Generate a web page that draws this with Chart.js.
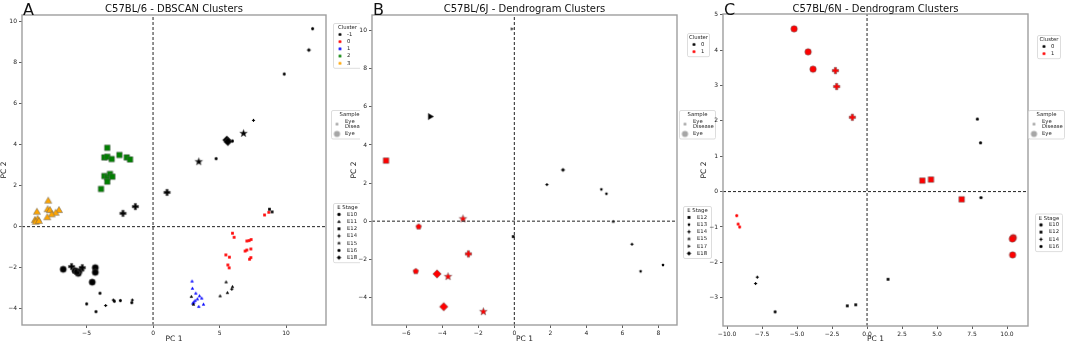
<!DOCTYPE html>
<html>
<head>
<meta charset="utf-8">
<script src="https://cdn.jsdelivr.net/npm/chart.js@4.4.1/dist/chart.umd.min.js"></script>
<style>
    body { margin: 0; background: #fff; width: 1065px; height: 344px; overflow: hidden; position: relative; }
    canvas { position: absolute; top: 0; }
</style>
</head>
<body>
<canvas id="chartA" width="360" height="344" style="left:0px"></canvas>
<canvas id="chartB" width="366" height="344" style="left:350px"></canvas>
<canvas id="chartC" width="365" height="344" style="left:700px"></canvas>
<script>
/* ========== Dados =============== */
// each point: [PC 1, PC 2, E stage, sample]

// A - C57BL/6 - DBSCAN
const A_clusterNeg1 = [
    [-2.26, 0.65, 'E14', 'Eye'], [-1.33, 0.98, 'E14', 'Eye'], [1.05, 1.67, 'E14', 'Eye'],
    [11.99, 9.66, 'E16', 'Eye Disease'], [11.71, 8.62, 'E18', 'Eye Disease'], [9.86, 7.45, 'E16', 'Eye Disease'],
    [7.55, 5.19, 'E14', 'Eye Disease'], [6.80, 4.55, 'E15', 'Eye'], [5.54, 4.23, 'E18', 'Eye'],
    [5.62, 4.15, 'E18', 'Eye'], [5.97, 4.18, 'E16', 'Eye Disease'], [4.74, 3.32, 'E16', 'Eye Disease'],
    [3.44, 3.17, 'E15', 'Eye'],
    [8.75, 0.85, 'E12', 'Eye Disease'], [8.95, 0.72, 'E12', 'Eye Disease'],
    [2.88, -3.41, 'E11', 'Eye Disease'], [3.04, -3.79, 'E11', 'Eye Disease'], [5.49, -2.70, 'E11', 'Eye Disease'],
    [5.97, -2.93, 'E11', 'Eye Disease'], [5.92, -3.05, 'E14', 'Eye Disease'], [5.59, -3.22, 'E11', 'Eye Disease'],
    [5.04, -3.38, 'E11', 'Eye Disease'],
    [-6.75, -2.08, 'E10', 'Eye'], [-5.87, -2.15, 'E10', 'Eye'], [-5.62, -2.28, 'E10', 'Eye'],
    [-5.72, -2.20, 'E10', 'Eye'], [-4.34, -2.00, 'E10', 'Eye'], [-4.34, -2.23, 'E10', 'Eye'],
    [-4.57, -2.71, 'E10', 'Eye'], [-6.12, -1.95, 'E14', 'Eye'], [-5.42, -2.11, 'E14', 'Eye'],
    [-5.32, -2.00, 'E14', 'Eye'],
    [-3.99, -3.25, 'E16', 'Eye Disease'], [-4.99, -3.77, 'E16', 'Eye Disease'], [-4.29, -4.15, 'E16', 'Eye Disease'],
    [-3.56, -3.85, 'E14', 'Eye Disease'], [-2.99, -3.58, 'E14', 'Eye Disease'], [-2.91, -3.64, 'E16', 'Eye Disease'],
    [-2.46, -3.61, 'E16', 'Eye Disease'], [-1.56, -3.58, 'E14', 'Eye Disease'], [-1.60, -3.71, 'E16', 'Eye Disease']
];
const A_cluster0 = [
    [5.97, -0.32, 'E12', 'Eye Disease'], [6.09, -0.52, 'E12', 'Eye Disease'], [7.05, -0.70, 'E12', 'Eye Disease'],
    [7.22, -0.68, 'E12', 'Eye Disease'], [7.37, -0.63, 'E12', 'Eye Disease'], [6.92, -1.19, 'E12', 'Eye Disease'],
    [7.05, -1.14, 'E12', 'Eye Disease'], [7.35, -1.09, 'E12', 'Eye Disease'], [7.25, -1.59, 'E12', 'Eye Disease'],
    [7.35, -1.51, 'E12', 'Eye Disease'], [5.47, -1.38, 'E12', 'Eye Disease'], [5.74, -1.49, 'E12', 'Eye Disease'],
    [5.62, -1.87, 'E12', 'Eye Disease'], [5.72, -2.01, 'E12', 'Eye Disease'], [8.38, 0.57, 'E12', 'Eye Disease'],
    [8.70, 0.70, 'E12', 'Eye Disease']
];
const A_cluster1 = [
    [2.93, -2.66, 'E11', 'Eye Disease'], [2.96, -3.01, 'E11', 'Eye Disease'], [3.21, -3.25, 'E11', 'Eye Disease'],
    [3.49, -3.38, 'E11', 'Eye Disease'], [3.66, -3.49, 'E11', 'Eye Disease'], [3.33, -3.53, 'E11', 'Eye Disease'],
    [3.16, -3.61, 'E11', 'Eye Disease'], [3.06, -3.69, 'E11', 'Eye Disease'], [3.79, -3.79, 'E11', 'Eye Disease'],
    [3.44, -3.90, 'E11', 'Eye Disease'], [2.99, -3.74, 'E11', 'Eye Disease']
];
const A_cluster2 = [
    [-3.44, 3.85, 'E12', 'Eye'], [-3.66, 3.38, 'E12', 'Eye'], [-3.44, 3.41, 'E12', 'Eye'],
    [-3.11, 3.30, 'E12', 'Eye'], [-2.53, 3.50, 'E12', 'Eye'], [-1.98, 3.38, 'E12', 'Eye'],
    [-1.73, 3.28, 'E12', 'Eye'], [-3.66, 2.47, 'E12', 'Eye'], [-3.44, 2.41, 'E12', 'Eye'],
    [-3.24, 2.57, 'E12', 'Eye'], [-3.06, 2.44, 'E12', 'Eye'], [-3.44, 2.20, 'E12', 'Eye'],
    [-3.91, 1.84, 'E12', 'Eye']
];
const A_cluster3 = [
    [-7.88, 1.27, 'E11', 'Eye'], [-8.73, 0.73, 'E11', 'Eye'], [-7.92, 0.85, 'E11', 'Eye'],
    [-7.75, 0.81, 'E11', 'Eye'], [-7.07, 0.81, 'E11', 'Eye'], [-7.32, 0.68, 'E11', 'Eye'],
    [-7.62, 0.60, 'E11', 'Eye'], [-7.95, 0.46, 'E11', 'Eye'], [-8.88, 0.33, 'E11', 'Eye'],
    [-8.68, 0.38, 'E11', 'Eye'], [-8.83, 0.24, 'E11', 'Eye'], [-8.58, 0.28, 'E11', 'Eye']
];
const A_clusters = ['-1', '0', '1', '2', '3'];
const A_stages = ['E10', 'E11', 'E12', 'E14', 'E15', 'E16', 'E18'];
const A_xTicks = [-5, 0, 5, 10];
const A_yTicks = [-4, -2, 0, 2, 4, 6, 8, 10];

// B - C57BL/6J - Dendrogram
const B_cluster0 = [
    [-4.66, 5.49, 'E17', 'Eye'], [-0.13, 10.09, 'E17', 'Eye Disease'], [-0.06, -0.81, 'E12', 'Eye Disease'],
    [2.70, 2.69, 'E18', 'Eye Disease'], [1.81, 1.92, 'E14', 'Eye Disease'], [4.83, 1.67, 'E13', 'Eye Disease'],
    [5.11, 1.44, 'E13', 'Eye Disease'], [5.49, -0.03, 'E15', 'Eye Disease'], [6.53, -1.21, 'E14', 'Eye Disease'],
    [8.25, -2.30, 'E13', 'Eye Disease'], [7.01, -2.63, 'E13', 'Eye Disease']
];
const B_cluster1 = [
    [-7.12, 3.18, 'E12', 'Eye'], [-5.31, -0.29, 'E13', 'Eye'], [-5.47, -2.63, 'E13', 'Eye'],
    [-2.55, -1.72, 'E14', 'Eye'], [-2.85, 0.12, 'E15', 'Eye'], [-3.68, -2.91, 'E15', 'Eye'],
    [-1.72, -4.75, 'E15', 'Eye'], [-4.29, -2.77, 'E18', 'Eye'], [-3.92, -4.49, 'E18', 'Eye']
];
const B_clusters = ['0', '1'];
const B_stages = ['E12', 'E13', 'E14', 'E15', 'E17', 'E18'];
const B_xTicks = [-6, -4, -2, 0, 2, 4, 6, 8];
const B_yTicks = [-4, -2, 0, 2, 4, 6, 8, 10];

// C - C57BL/6N - Dendrogram
const C_cluster0 = [
    [7.88, 2.05, 'E10', 'Eye Disease'], [8.11, 1.38, 'E10', 'Eye Disease'], [8.14, -0.17, 'E10', 'Eye Disease'],
    [-7.84, -2.42, 'E14', 'Eye Disease'], [-7.96, -2.60, 'E14', 'Eye Disease'], [-6.57, -3.40, 'E16', 'Eye Disease'],
    [-1.41, -3.23, 'E12', 'Eye Disease'], [-0.81, -3.20, 'E12', 'Eye Disease'], [1.50, -2.48, 'E12', 'Eye Disease']
];
const C_cluster1 = [
    [-5.21, 4.60, 'E10', 'Eye'], [-4.21, 3.95, 'E10', 'Eye'], [-3.86, 3.46, 'E10', 'Eye'],
    [10.45, -1.30, 'E10', 'Eye'], [10.38, -1.34, 'E10', 'Eye'], [10.40, -1.79, 'E10', 'Eye'],
    [-2.26, 3.42, 'E14', 'Eye'], [-2.17, 2.97, 'E14', 'Eye'], [-1.05, 2.10, 'E14', 'Eye'],
    [3.95, 0.31, 'E12', 'Eye'], [4.57, 0.34, 'E12', 'Eye'], [6.76, -0.22, 'E12', 'Eye'],
    [-9.31, -0.68, 'E16', 'Eye Disease'], [-9.21, -0.92, 'E16', 'Eye Disease'], [-9.10, -1.00, 'E16', 'Eye Disease']
];
const C_clusters = ['0', '1'];
const C_stages = ['E10', 'E12', 'E14', 'E16'];
const C_xTicks = [-10, -7.5, -5, -2.5, 0, 2.5, 5, 7.5, 10];
const C_yTicks = [-3, -2, -1, 0, 1, 2, 3, 4, 5];

const samples = ['Eye Disease', 'Eye'];

/* ========== Marcadores =============== */

const FONT = '"DejaVu Sans", sans-serif';
const stageShape = {
    E10: 'circle', E11: 'triangle', E12: 'square', E13: 'pentagon', E14: 'plus',
    E15: 'star', E16: 'hexagon', E17: 'triRight', E18: 'diamond'
};
const shapeScale = {
    circle: 1, square: 0.95, triangle: 1.05, pentagon: 0.85, plus: 0.9,
    star: 0.95, hexagon: 1, triRight: 0.95, diamond: 1.05
};
const markerCache = {};

function polyPath(g, cx, cy, n, R, start) {
    for (let i = 0; i < n; i++) {
        const a = start + i * 2 * Math.PI / n;
        const px = cx + R * Math.cos(a), py = cy + R * Math.sin(a);
        if (i == 0) g.moveTo(px, py); else g.lineTo(px, py);
    }
}

function makeMarker(shape, size, fill, edge) {
    const key = [shape, size, fill, edge].join('|');
    if (markerCache[key]) return markerCache[key];
    const s = size * (shapeScale[shape] || 1);
    const dim = Math.ceil(s * 1.4) + 2;
    const c = document.createElement('canvas');
    c.width = dim; c.height = dim;
    const g = c.getContext('2d');
    const m = dim / 2, r = s / 2;
    g.beginPath();
    if (shape == 'circle') {
        g.arc(m, m, r, 0, 2 * Math.PI);
    } else if (shape == 'square') {
        g.rect(m - r * 0.9, m - r * 0.9, r * 1.8, r * 1.8);
    } else if (shape == 'triangle') {
        polyPath(g, m, m + r * 0.15, 3, r * 1.2, -Math.PI / 2);
    } else if (shape == 'triRight') {
        polyPath(g, m - r * 0.1, m, 3, r * 1.2, 0);
    } else if (shape == 'pentagon') {
        polyPath(g, m, m, 5, r * 1.08, -Math.PI / 2);
    } else if (shape == 'hexagon') {
        polyPath(g, m, m, 6, r * 1.05, -Math.PI / 2);
    } else if (shape == 'diamond') {
        polyPath(g, m, m, 4, r * 1.25, -Math.PI / 2);
    } else if (shape == 'star') {
        for (let i = 0; i < 10; i++) {
            const a = -Math.PI / 2 + i * Math.PI / 5;
            const R = i % 2 == 0 ? r * 1.3 : r * 0.55;
            const px = m + R * Math.cos(a), py = m + R * Math.sin(a);
            if (i == 0) g.moveTo(px, py); else g.lineTo(px, py);
        }
    } else if (shape == 'plus') {
        const e = r * 1.1, w = r * 0.4;
        g.moveTo(m - w, m - e); g.lineTo(m + w, m - e); g.lineTo(m + w, m - w);
        g.lineTo(m + e, m - w); g.lineTo(m + e, m + w); g.lineTo(m + w, m + w);
        g.lineTo(m + w, m + e); g.lineTo(m - w, m + e); g.lineTo(m - w, m + w);
        g.lineTo(m - e, m + w); g.lineTo(m - e, m - w); g.lineTo(m - w, m - w);
    }
    g.closePath();
    g.fillStyle = fill;
    g.fill();
    if (edge) {
        g.strokeStyle = edge;
        g.lineWidth = 0.6;
        g.stroke();
    }
    markerCache[key] = c;
    return c;
}

const clusterColor = { '-1': '#000000', '0': '#ff0000', '1': '#0000ff', '2': '#008000', '3': '#ffa500' };
const dendroColor = { '0': '#000000', '1': '#ff0000' };
const sampleSize = { 'Eye': 6.5, 'Eye Disease': 3.2 };

function clusterDataset(points, color) {
    return {
        data: points.map(p => ({ x: p[0], y: p[1] })),
        pointStyle: points.map(p => makeMarker(stageShape[p[2]], sampleSize[p[3]], color,
            p[3] == 'Eye' ? 'rgba(90,90,90,0.8)' : null)),
        pointRadius: 3,
        pointHoverRadius: 3,
        order: 1
    };
}

function zeroLines(xMin, xMax, yMin, yMax) {
    const base = { type: 'line', showLine: true, borderColor: '#222', borderWidth: 1, borderDash: [3, 2], pointRadius: 0, order: 0 };
    return [
        Object.assign({ data: [{ x: 0, y: yMin }, { x: 0, y: yMax }] }, base),
        Object.assign({ data: [{ x: xMin, y: 0 }, { x: xMax, y: 0 }] }, base)
    ];
}

/* ========== Legendas e moldura =============== */

function drawLegend(ctx, lg, left) {
    const x = lg.x - left;
    let h = 8.8;
    lg.items.forEach(it => { h += it.label.split('\n').length * 5.3 + 1.9; });
    ctx.fillStyle = '#fff';
    ctx.strokeStyle = '#d4d4d4';
    ctx.lineWidth = 0.8;
    ctx.beginPath();
    ctx.roundRect(x + 0.5, lg.y + 0.5, lg.w, h, 1.5);
    ctx.fill();
    ctx.stroke();

    ctx.fillStyle = '#222';
    ctx.font = '5.3px ' + FONT;
    ctx.textBaseline = 'middle';
    ctx.textAlign = 'center';
    ctx.fillText(lg.title, x + lg.w / 2 + 0.5, lg.y + 4.9);
    ctx.textAlign = 'left';
    let cursor = lg.y + 7.8;
    lg.items.forEach(it => {
        const lines = it.label.split('\n');
        const ih = lines.length * 5.3 + 1.9;
        const cy = cursor + ih / 2;
        ctx.drawImage(it.marker, x + lg.mx - it.marker.width / 2, cy - it.marker.height / 2);
        lines.forEach((ln, k) => {
            ctx.fillText(ln, x + lg.lx, cy + (k - (lines.length - 1) / 2) * 5.3);
        });
        cursor += ih;
    });
}

const panelDecor = {
    id: 'panelDecor',
    afterDraw(chart, args, opts) {
        const ctx = chart.ctx, a = chart.chartArea;
        ctx.save();
        ctx.strokeStyle = '#9e9e9e';
        ctx.lineWidth = 1.4;
        ctx.strokeRect(a.left, a.top, a.right - a.left, a.bottom - a.top);

        ctx.fillStyle = '#111';
        ctx.textBaseline = 'alphabetic';
        ctx.textAlign = 'center';
        ctx.font = '10px ' + FONT;
        ctx.fillText(opts.title, (a.left + a.right) / 2, 12);
        ctx.textAlign = 'left';
        ctx.font = '16px ' + FONT;
        ctx.fillText(opts.letter, a.left + 1, 14.5);

        opts.legends.forEach(lg => drawLegend(ctx, lg, opts.left));
        ctx.restore();
    }
};

function fmtTick(decimals) {
    return v => (decimals ? Number(v).toFixed(1) : String(v)).replace('-', '\u2212');
}

function axis(min, max, ticks, title, isX, size, decimals) {
    return {
        type: 'linear',
        min: min,
        max: max,
        afterBuildTicks: s => { s.ticks = ticks.map(v => ({ value: v })); },
        afterFit: s => { if (isX) s.height = size; else s.width = size; },
        ticks: {
            autoSkip: false, maxRotation: 0, padding: 2, color: '#222',
            font: { family: FONT, size: 6 },
            callback: fmtTick(decimals)
        },
        grid: { drawOnChartArea: false, tickLength: 3, color: '#333', lineWidth: 0.8 },
        border: { display: false },
        title: { display: true, text: title, color: '#222', padding: 0, font: { family: FONT, size: 7.5 } }
    };
}

function buildPanel(id, p) {
    new Chart(document.getElementById(id), {
        type: 'scatter',
        data: {
            datasets: zeroLines(p.xMin, p.xMax, p.yMin, p.yMax).concat(p.sets)
        },
        options: {
            responsive: false,
            animation: false,
            events: [],
            layout: { padding: { top: p.top, right: p.padRight, left: 0, bottom: 0 } },
            plugins: {
                legend: { display: false },
                tooltip: { enabled: false },
                panelDecor: { title: p.title, letter: p.letter, legends: p.legends, left: p.left }
            },
            scales: {
                x: axis(p.xMin, p.xMax, p.xTicks, 'PC 1', true, p.xAxisH, p.decimals),
                y: axis(p.yMin, p.yMax, p.yTicks, 'PC 2', false, p.yAxisW, false)
            }
        },
        plugins: [panelDecor]
    });
}

function clusterLegend(x, y, w, labels, colors) {
    return { title: 'Cluster', x: x, y: y, w: w, mx: 7, lx: 14,
        items: labels.map(l => ({ label: l, marker: makeMarker('circle', 3, colors[l], null) })) };
}
function sampleLegend(x, y) {
    return { title: 'Sample', x: x, y: y, w: 36, mx: 6, lx: 14,
        items: samples.map(s => ({ label: s.replace(' ', '\n'), marker: makeMarker('circle', s == 'Eye' ? 6.2 : 3, '#a6a6a6', null) })) };
}
function stageLegend(x, y, w, stages) {
    return { title: 'E Stage', x: x, y: y, w: w, mx: 6, lx: 14,
        items: stages.map(s => ({ label: s, marker: makeMarker(stageShape[s], 3.3, '#000', null) })) };
}

/* ========== Painéis =============== */

buildPanel('chartA', {
    title: 'C57BL/6 - DBSCAN Clusters', letter: 'A', left: 0,
    xMin: -9.85, xMax: 13.0, yMin: -4.8, yMax: 10.33,
    xTicks: A_xTicks, yTicks: A_yTicks, decimals: false,
    top: 15, padRight: 360 - 326, xAxisH: 19, yAxisW: 22,
    sets: [
        clusterDataset(A_clusterNeg1, clusterColor['-1']),
        clusterDataset(A_cluster0, clusterColor['0']),
        clusterDataset(A_cluster1, clusterColor['1']),
        clusterDataset(A_cluster2, clusterColor['2']),
        clusterDataset(A_cluster3, clusterColor['3'])
    ],
    legends: [
        clusterLegend(333, 23, 28, A_clusters, clusterColor),
        sampleLegend(331, 110),
        stageLegend(333, 203, 28, A_stages)
    ]
});

buildPanel('chartB', {
    title: 'C57BL/6J - Dendrogram Clusters', letter: 'B', left: 350,
    xMin: -7.9, xMax: 9.03, yMin: -5.45, yMax: 10.82,
    xTicks: B_xTicks, yTicks: B_yTicks, decimals: false,
    top: 15, padRight: 366 - 327, xAxisH: 19, yAxisW: 22,
    sets: [
        clusterDataset(B_cluster0, dendroColor['0']),
        clusterDataset(B_cluster1, dendroColor['1'])
    ],
    legends: [
        clusterLegend(687, 33, 22, B_clusters, dendroColor),
        sampleLegend(679, 110),
        stageLegend(683, 206, 28, B_stages)
    ]
});

buildPanel('chartC', {
    title: 'C57BL/6N - Dendrogram Clusters', letter: 'C', left: 700,
    xMin: -10.29, xMax: 11.5, yMin: -3.8, yMax: 5.02,
    xTicks: C_xTicks, yTicks: C_yTicks, decimals: true,
    top: 14, padRight: 365 - 328, xAxisH: 18, yAxisW: 23,
    sets: [
        clusterDataset(C_cluster0, dendroColor['0']),
        clusterDataset(C_cluster1, dendroColor['1'])
    ],
    legends: [
        clusterLegend(1037, 35, 23, C_clusters, dendroColor),
        sampleLegend(1028, 110),
        stageLegend(1035, 213.5, 27, C_stages)
    ]
});
</script>
</body>
</html>
